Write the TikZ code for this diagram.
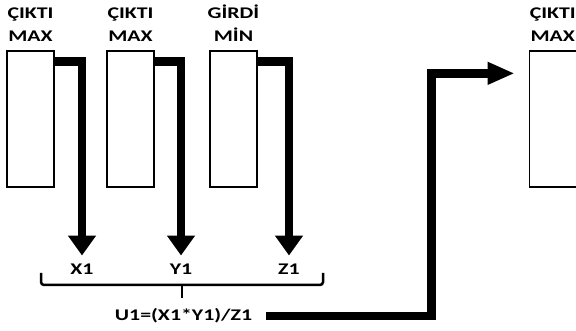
\documentclass[tikz,border=0pt]{standalone}
\usepackage{fontspec}
\setmainfont{Carlito}[FakeStretch=1.34]
\usetikzlibrary{arrows.meta,calc}
\begin{document}
\begin{tikzpicture}[x=1pt,y=-1pt,
  box/.style={draw,line width=1.3pt,minimum width=47pt,minimum height=136pt,inner sep=0pt},
  head/.style={font=\fontsize{16.3}{22.5}\selectfont\bfseries,align=center,anchor=south,inner sep=0pt},
  var/.style={font=\fontsize{16.3}{20}\selectfont\bfseries,inner sep=0pt},
  flow/.style={line width=8.5pt,line join=miter},
  down/.style={flow,-{Triangle[width=27pt,length=20pt]}},
  feed/.style={flow,-{Triangle[width=21pt,length=27pt]}},
  bracket/.style={line width=2.5pt,rounded corners=3pt}]
\useasboundingbox (0,0) rectangle (576,331);

% input/output blocks
\node[box] (b1) at (30.5,119) {};
\node[box] (b2) at (130.5,119) {};
\node[box] (b3) at (233.5,119) {};
\node[box] (b4) at (552.8,119) {};

% block headings
\node[head] (h1) at ([yshift=9pt]b1.north) {ÇIKTI\\MAX};
\node[head] (h2) at ([yshift=9pt]b2.north) {ÇIKTI\\MAX};
\node[head] (h3) at ([yshift=9pt]b3.north) {GİRDİ\\MİN};
\node[head] (h4) at ([yshift=9pt]b4.north) {ÇIKTI\\MAX};

% variables
\node[var] (x1) at (82,269) {X1};
\node[var] (y1) at (181,269) {Y1};
\node[var] (z1) at (289,269) {Z1};

% signals from the blocks
\draw[down] ([yshift=-11pt]b1.north east) -| ([yshift=8pt]x1.north);
\draw[down] ([yshift=-11pt]b2.north east) -| ([yshift=8pt]y1.north);
\draw[down] ([yshift=-11pt]b3.north east) -| ([yshift=8pt]z1.north);

% grouping bracket
\coordinate (bl) at (41,273);
\coordinate (bm) at (182,285);
\coordinate (br) at (323,273);
\draw[bracket] (bl) |- (bm) -| (br);
\draw[line width=2.5pt] (bm) -- ++(0,13);

% combined value fed to the last block
\node[var] (u1) at (183.5,316) {U1=(X1*Y1)/Z1};
\coordinate (in4) at ([xshift=-14pt,yshift=-23pt]b4.north west);
\draw[feed] ([xshift=14pt]u1.east) -| ([xshift=-83pt]in4) -- (in4);
\end{tikzpicture}
\end{document}
